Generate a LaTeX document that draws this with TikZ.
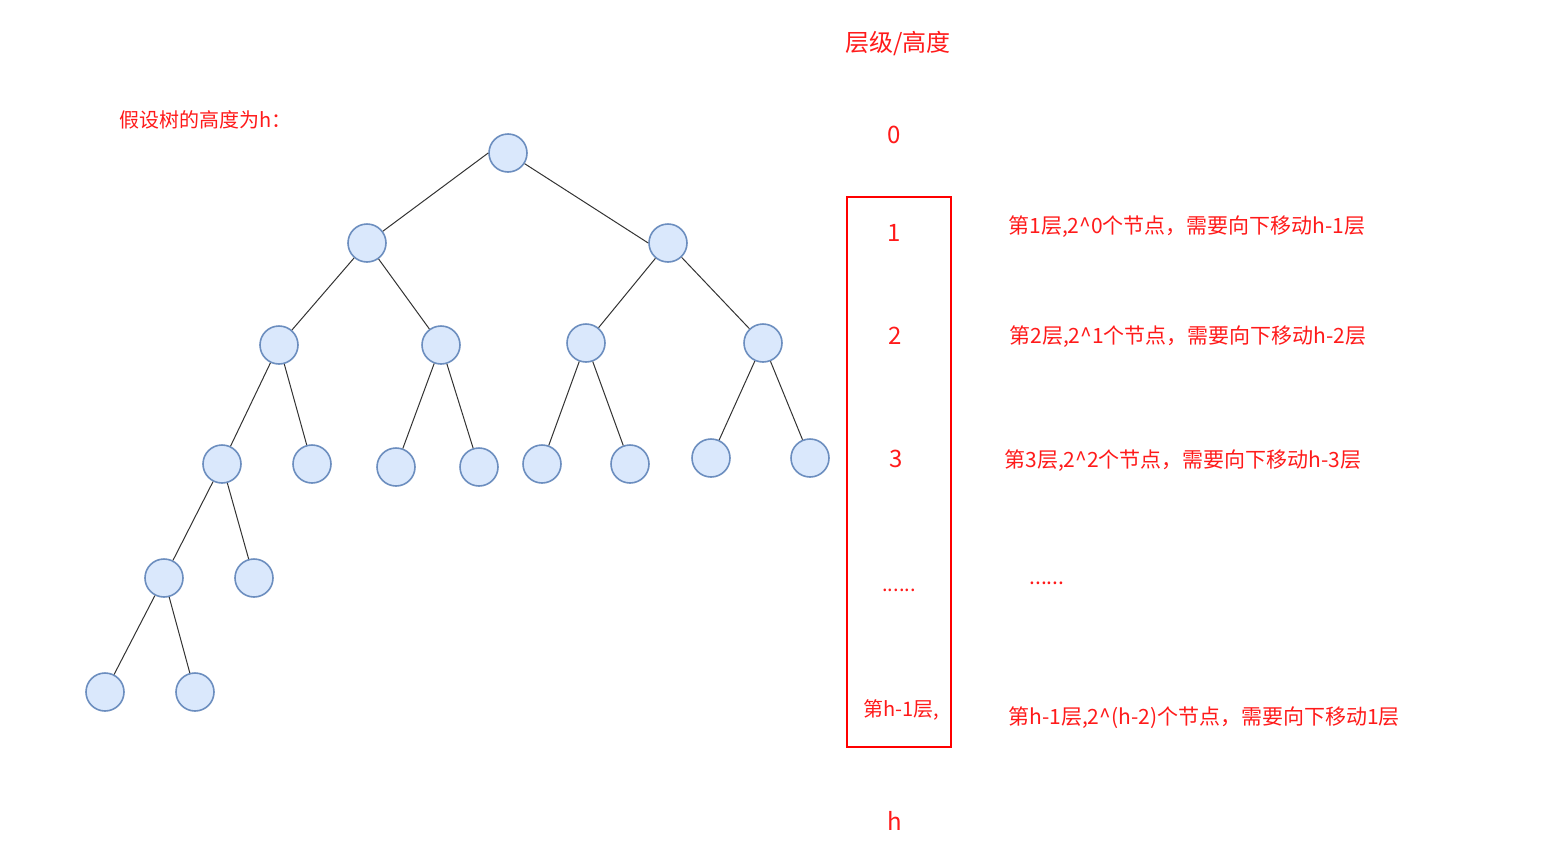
\documentclass[tikz,border=0pt]{standalone}
\usepackage{fontspec}
\setmainfont{Noto Sans CJK SC}
\definecolor{nodefill}{HTML}{DAE8FC}
\definecolor{nodedraw}{HTML}{6C8EBF}
\definecolor{txtred}{HTML}{FF1A1A}
\definecolor{boxred}{HTML}{FF0000}
\begin{document}
\begin{tikzpicture}[x=0.5pt,y=-0.5pt,
  tn/.style={circle,draw=nodedraw,fill=nodefill,line width=0.8pt,minimum size=19pt,inner sep=0pt},
  edge/.style={draw=black!80,line width=0.5pt},
  lbl/.style={text=txtred,font=\fontsize{10pt}{12pt}\selectfont,inner sep=0pt},
  big/.style={text=txtred,font=\fontsize{12pt}{14pt}\selectfont,inner sep=0pt},
  desc/.style={text=txtred,font=\fontsize{10.5pt}{12pt}\selectfont,inner sep=0pt,anchor=west}]
\useasboundingbox (0,0) rectangle (1548,841);
% tree nodes
\node[tn] (r) at (508,153) {};
\node[tn] (a) at (367,243) {};
\node[tn] (b) at (668,243) {};
\node[tn] (aa) at (279,345) {};
\node[tn] (ab) at (441,345) {};
\node[tn] (ba) at (586,343) {};
\node[tn] (bb) at (763,343) {};
\node[tn] (aaa) at (222,464) {};
\node[tn] (aab) at (312,464) {};
\node[tn] (aba) at (396,467) {};
\node[tn] (abb) at (479,467) {};
\node[tn] (baa) at (542,464) {};
\node[tn] (bab) at (630,464) {};
\node[tn] (bba) at (711,458) {};
\node[tn] (bbb) at (810,458) {};
\node[tn] (c) at (164,578) {};
\node[tn] (d) at (254,578) {};
\node[tn] (e) at (105,692) {};
\node[tn] (f) at (195,692) {};
% edges
\draw[edge] (r.west) -- (a);
\draw[edge] (r) -- (b.west);
\draw[edge] (a) -- (aa);
\draw[edge] (a) -- (ab);
\draw[edge] (b) -- (ba);
\draw[edge] (b) -- (bb);
\draw[edge] (aa) -- (aaa);
\draw[edge] (aa) -- (aab);
\draw[edge] (ab) -- (aba);
\draw[edge] (ab) -- (abb);
\draw[edge] (ba) -- (baa);
\draw[edge] (ba) -- (bab);
\draw[edge] (bb) -- (bba);
\draw[edge] (bb) -- (bbb);
\draw[edge] (aaa) -- (c);
\draw[edge] (aaa) -- (d);
\draw[edge] (c) -- (e);
\draw[edge] (c) -- (f);
% labels
\node[lbl,anchor=west] (hyp) at (119,120) {假设树的高度为h：};
\node[big] (title) at (898,44) {层级/高度};
\node[draw=boxred,line width=0.6pt,minimum width=52pt,minimum height=275pt,inner sep=0pt] (box) at (899,472) {};
\node[big] (l0) at (894,135) {0};
\node[big] (l1) at (894,233) {1};
\node[big] (l2) at (895,336) {2};
\node[big] (l3) at (896,459) {3};
\node[lbl] (ldots) at (899,590) {......};
\node[lbl] (lh1) at (901,710) {第h-1层,};
\node[big] (lh) at (895,821) {h};
\node[desc] (d1) at (1008,227) {第1层,2\^{}0个节点，需要向下移动h-1层};
\node[desc] (d2) at (1009,337) {第2层,2\^{}1个节点，需要向下移动h-2层};
\node[desc] (d3) at (1004,461) {第3层,2\^{}2个节点，需要向下移动h-3层};
\node[desc] (d4) at (1029,583) {......};
\node[desc] (d5) at (1008,718) {第h-1层,2\^{}(h-2)个节点，需要向下移动1层};
\end{tikzpicture}
\end{document}
